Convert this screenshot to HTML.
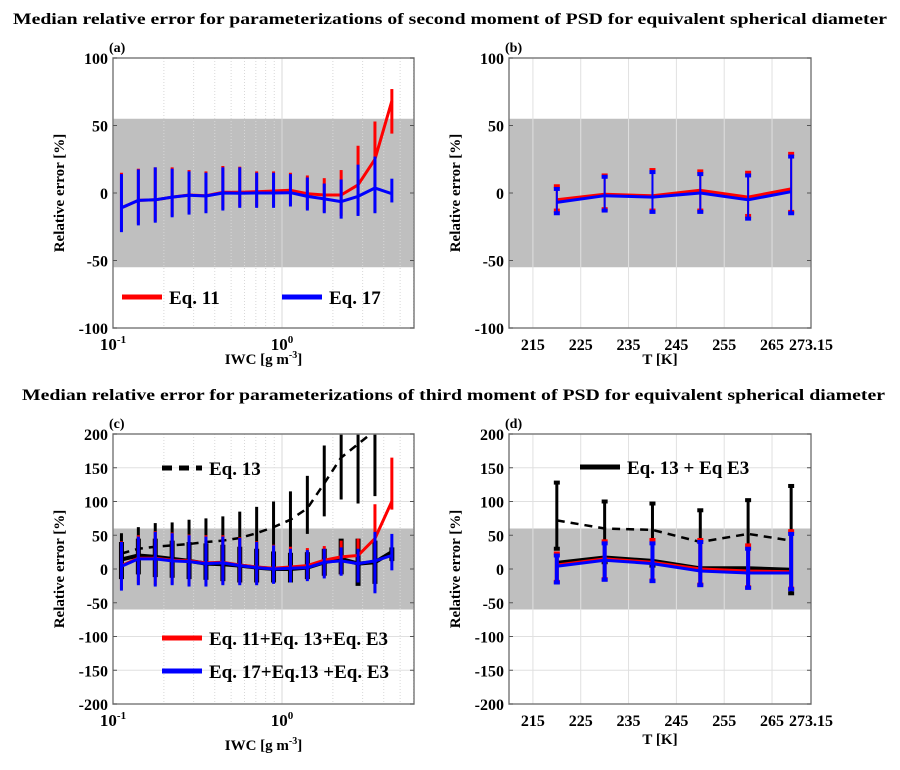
<!DOCTYPE html>
<html><head><meta charset="utf-8"><style>
body{margin:0;background:#fff;}
svg text{font-family:"Liberation Serif",serif;font-weight:bold;fill:#000;}
</style></head><body>
<svg id="fig" width="900" height="765" xmlns="http://www.w3.org/2000/svg">
<text x="13" y="24" font-size="16" textLength="874" lengthAdjust="spacingAndGlyphs">Median relative error for parameterizations of second moment of PSD for equivalent spherical diameter</text>
<text x="22" y="400" font-size="16" textLength="863" lengthAdjust="spacingAndGlyphs">Median relative error for parameterizations of third moment of PSD for equivalent spherical diameter</text>
</svg>
<script>
// ---- data ----
const iwcExp = [-0.95,-0.85,-0.75,-0.65,-0.55,-0.45,-0.35,-0.25,-0.15,-0.05,0.05,0.15,0.25,0.35,0.45,0.55,0.65];
const tempK = [220,230,240,250,260,269];
// panel a
const aBlue = [-11,-5.5,-5,-3,-1.7,-2.2,0,-0.2,0,0,0.2,-2.5,-4.4,-6.4,-2.5,3.7,-0.5];
const aBlueTop = [14,17.5,19,18,16,15,19,19,15,15,14,11.5,7,10,21,27,10.6];
const aBlueBot = [-29,-24,-22,-18,-16,-15,-13,-11,-11,-11,-10,-13,-15,-19,-17,-15,-7];
const aRed = [-11,-5.5,-5,-3,-1.5,-2,0.5,0.5,1,1.5,2,-0.5,-1.5,-1.5,6,25,68];
const aRedTop = [15,18,19,19,17,16,20,19.5,16,16,15,13,11,17,35,53,77];
const aRedBot = [-28,-23,-21,-17,-15,-14,-12,-10,-10,-10,-9,-12,-14,-17,-16,-14,44];
// panel b
const bRed = [-5,-1,-2,2,-3,3];
const bRedTop = [5,13,17,16,15,29];
const bRedBot = [-13,-12,-13,-13,-17,-14];
const bBlue = [-7,-2,-3,0,-5,1];
const bBlueTop = [3,12,15.5,14,13,27];
const bBlueBot = [-15,-13,-14,-14,-19,-15];
// panel c
const cDash = [23,30,33,35,37,40,42,46,53,62,73,90,127,165,185,205,240];
const cDashTop = [53,62,68,69,73,75,78,85,92,100,115,138,183,230,230,230,32];
const cDashBot = [-15,-8,-12,-13,-15,-16,-18,-20,-20,-20,-20,52,78,103,97,108,10];
const cBlack = [14,20,18,15,12,8,7,5,2,0,0,2,10,15,8,10,25];
const cBlackTop = [40,45,45,42,40,38,36,33,30,26,24,25,30,45,45,42,32];
const cBlackBot = [-15,-8,-12,-13,-15,-16,-18,-20,-20,-20,-20,-15,-10,-8,-25,-22,12];
const cBlue = [4,15,15,12,11,8,9,5,2,0,1,2,10,12,8,12,20];
const cBlueTop = [40,48,55,53,50,48,48,46,40,35,30,28,30,32,30,55,52];
const cBlueBot = [-32,-24,-26,-24,-26,-26,-24,-24,-24,-22,-20,-18,-14,-10,-20,-36,-2];
const cRed = [5,16,16,13,12,9,10,6,3,1,3,5,13,18,20,45,100];
const cRedTop = [41,50,56,54,51,50,50,47,41,36,33,31,34,42,45,96,165];
const cRedBot = [-30,-22,-24,-22,-24,-24,-22,-22,-22,-20,-18,-16,-12,-8,-18,-34,88];
// panel d
const dDash = [72,60,58,40,52,42];
const dDashTop = [128,100,97,87,102,123];
const dDashBot = [30,10,5,0,-5,-36];
const dBlack = [9,17,12,1,1,-1];
const dRed = [6,15,10,0,-3,-4];
const dRedTop = [23,41,43,43,35,56];
const dRedBot = [-19,-15,-17,-23,-27,-29];
const dBlue = [4,13,8,-3,-6,-6];
const dBlueTop = [20,38,38,40,30,52];
const dBlueBot = [-20,-16,-18,-24,-28,-30];
const yTicksTop = [100,50,0,-50,-100];
const yTicksBot = [200,150,100,50,0,-50,-100,-150,-200];
const tTicks = [215,225,235,245,255,265,273.15];
const tTickLabels = ['215','225','235','245','255','265','273.15'];

const NS='http://www.w3.org/2000/svg';
const svg=document.getElementById('fig');
function el(tag,attrs,parent){const e=document.createElementNS(NS,tag);for(const k in attrs)e.setAttribute(k,attrs[k]);(parent||svg).appendChild(e);return e;}

function panel(o){
  const g=el('g',{});
  
  
  const L=o.L,R=o.R,T=o.T,B=o.B;
  const sy=v=>B-(v-o.ymin)/(o.ymax-o.ymin)*(B-T);
  const sx=o.log?(v=>L+(Math.log10(v)+1)*169):(v=>L+(v-210)/(273.15-210)*(R-L));
  const band=el('rect',{x:L,y:sy(o.band),width:R-L,height:sy(-o.band)-sy(o.band),fill:'#bfbfbf'},g);
  
  
  if(o.log){
    for(let d=-1;d<=0;d++)for(let m=1;m<=9;m++){const v=m*Math.pow(10,d);const x=sx(v);if(x<=L||x>=R)continue;
      el('line',{x1:x,x2:x,y1:T,y2:B,stroke:'#d8d8d8','stroke-width':1,'stroke-dasharray':m===1?'':'1,2'},g);}
  }else{
    tTicks.forEach(t=>{const x=sx(t);if(x<R-1)el('line',{x1:x,x2:x,y1:T,y2:B,stroke:'#e0e0e0','stroke-width':1},g);});
  }
  o.yticks.forEach(v=>{const y=sy(v);if(Math.abs(v)>o.band)el('line',{x1:L,x2:R,y1:y,y2:y,stroke:'#e0e0e0','stroke-width':1},g);});
  const cid='clip'+o.name;
  const cp=el('clipPath',{id:cid},g);el('rect',{x:L,y:T,width:R-L,height:B-T},cp);
  const pg=el('g',{'clip-path':'url(#'+cid+')'},g);
  o.series.forEach(s=>{
    const sg=el('g',{},pg);
    
    
    if(s.top){s.vals.forEach((v,i)=>{const x=sx(o.xs[i]);
      el('line',{x1:x,x2:x,y1:sy(s.top[i]),y2:sy(s.bot[i]),stroke:s.color,'stroke-width':s.ew||3},sg);
      if(s.caps){[s.top[i],s.bot[i]].forEach(c=>el('rect',{x:x-3,y:sy(c)-2,width:6,height:4,fill:s.color},sg));}
    });}
    const pts=s.vals.map((v,i)=>sx(o.xs[i]).toFixed(1)+','+sy(v).toFixed(1)).join(' ');
    el('polyline',{points:pts,fill:'none',stroke:s.color,'stroke-width':s.lw||3,'stroke-dasharray':s.dash||'','stroke-linejoin':'round'},sg);
  });
  el('rect',{x:L,y:T,width:R-L,height:B-T,fill:'none',stroke:'#7f7f7f','stroke-width':1.5},g);
  o.yticks.forEach(v=>{const y=sy(v);
    el('line',{x1:L,x2:L+4,y1:y,y2:y,stroke:'#555'},g);el('line',{x1:R,x2:R-4,y1:y,y2:y,stroke:'#555'},g);
    const t=el('text',{x:L-5,y:y+6,'font-size':16,'text-anchor':'end'},g);t.textContent=v;});
  if(o.log){
    [[0.1,'-1'],[1,'0']].forEach(([v,e])=>{const t=el('text',{x:sx(v),y:B+22,'font-size':17,'text-anchor':'middle'},g);
      t.textContent='10';const ts=el('tspan',{dy:-7,'font-size':11},t);ts.textContent=e;});
  }else{
    tTicks.forEach((v,i)=>{const t=el('text',{x:sx(v),y:B+22,'font-size':16,'text-anchor':'middle'},g);t.textContent=tTickLabels[i];});
  }
  const lab=el('text',{x:L-4,y:T-6,'font-size':14},g);lab.textContent=o.label;
  const yl=el('text',{x:0,y:0,'font-size':15,'text-anchor':'middle',transform:`translate(${L-49},${(T+B)/2}) rotate(-90)`},g);
  yl.textContent='Relative error [%]';
  
  
  const xl=el('text',{x:(L+R)/2,y:o.xlY,'font-size':15,'text-anchor':'middle'},g);
  if(o.log){xl.textContent='IWC [g m';const ts=el('tspan',{dy:-6,'font-size':10},xl);ts.textContent='-3';const t2=el('tspan',{dy:6},xl);t2.textContent=']';}
  else xl.textContent='T [K]';
  
  
  (o.legend||[]).forEach(le=>{const lg=el('g',{},g);
    
    
    el('line',{x1:le.x,x2:le.x+40,y1:le.y,y2:le.y,stroke:le.color,'stroke-width':5,'stroke-dasharray':le.dash||''},lg);
    const t=el('text',{x:le.x+47,y:le.y+7,'font-size':19},lg);t.textContent=le.text;});
}
const iwc=iwcExp.map(e=>Math.pow(10,e));
panel({name:'panel-a',label:'(a)',L:113,R:414,T:58,B:328,ymin:-100,ymax:100,band:55,log:true,xs:iwc,yticks:yTicksTop,xlY:364,
  series:[{name:'eq11-series',color:'#ff0000',vals:aRed,top:aRedTop,bot:aRedBot},{name:'eq17-series',color:'#0000ff',vals:aBlue,top:aBlueTop,bot:aBlueBot}],
  legend:[{x:122,y:297,color:'#ff0000',text:'Eq. 11'},{x:282,y:297,color:'#0000ff',text:'Eq. 17'}]});
panel({name:'panel-b',label:'(b)',L:509,R:811,T:58,B:328,ymin:-100,ymax:100,band:55,log:false,xs:tempK,yticks:yTicksTop,xlY:364,
  series:[{name:'eq11-series',color:'#ff0000',vals:bRed,top:bRedTop,bot:bRedBot,caps:true,ew:2},{name:'eq17-series',color:'#0000ff',vals:bBlue,top:bBlueTop,bot:bBlueBot,caps:true,ew:2}]});
panel({name:'panel-c',label:'(c)',L:113,R:414,T:434,B:704,ymin:-200,ymax:200,band:60,log:true,xs:iwc,yticks:yTicksBot,xlY:750,
  series:[{name:'eq13-series',color:'#000',vals:cDash,top:cDashTop,bot:cDashBot,dash:'8,6',lw:2.5,ew:3},
    {name:'eq13-e3-series',color:'#000',vals:cBlack,top:cBlackTop,bot:cBlackBot,ew:5,lw:4},
    {name:'eq11-combo-series',color:'#ff0000',vals:cRed,top:cRedTop,bot:cRedBot},
    {name:'eq17-combo-series',color:'#0000ff',vals:cBlue,top:cBlueTop,bot:cBlueBot}],
  legend:[{x:162,y:468,color:'#000',dash:'10,7',text:'Eq. 13'},{x:162,y:638,color:'#ff0000',text:'Eq. 11+Eq. 13+Eq. E3'},{x:162,y:671,color:'#0000ff',text:'Eq. 17+Eq.13 +Eq. E3'}]});
panel({name:'panel-d',label:'(d)',L:509,R:811,T:434,B:704,ymin:-200,ymax:200,band:60,log:false,xs:tempK,yticks:yTicksBot,xlY:744,
  series:[{name:'eq13-series',color:'#000',vals:dDash,top:dDashTop,bot:dDashBot,dash:'8,6',lw:2.5,caps:true,ew:3},
    {name:'eq13-e3-series',color:'#000',vals:dBlack,lw:4},
    {name:'eq11-combo-series',color:'#ff0000',vals:dRed,top:dRedTop,bot:dRedBot,caps:true,ew:4},
    {name:'eq17-combo-series',color:'#0000ff',vals:dBlue,top:dBlueTop,bot:dBlueBot,caps:true,ew:4}],
  legend:[{x:580,y:467,color:'#000',text:'Eq. 13 + Eq  E3'}]});
</script>
</body></html>
